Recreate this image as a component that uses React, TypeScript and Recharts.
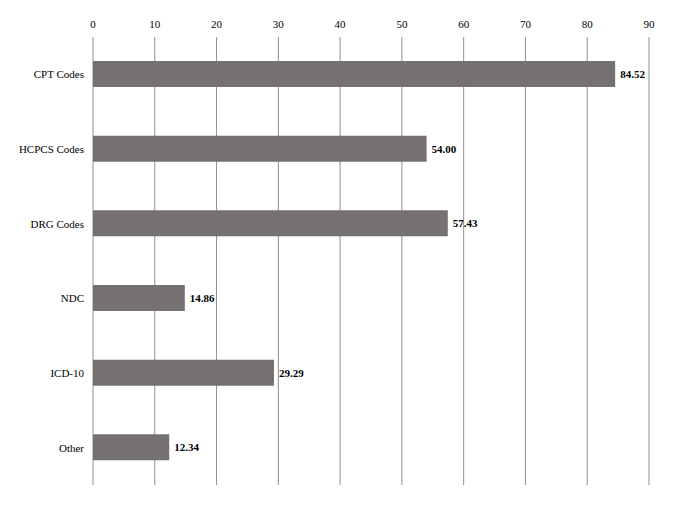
import { BarChart, Bar, XAxis, YAxis, CartesianGrid, LabelList } from "recharts";

const categories = ["CPT Codes", "HCPCS Codes", "DRG Codes", "NDC", "ICD-10", "Other"];
const values = [84.52, 54.0, 57.43, 14.86, 29.29, 12.34];
const xTicks = [0, 10, 20, 30, 40, 50, 60, 70, 80, 90];

const data = categories.map((name, i) => ({ name, value: values[i] }));

const font = '"Liberation Serif", "Times New Roman", serif';

function CategoryTick(props: any) {
  const { x, y, payload } = props;
  return (
    <text x={x} y={y} dy={4} textAnchor="end" fill="#000" fontSize={11} fontFamily={font}>
      {payload.value}
    </text>
  );
}

export default function App() {
  return (
    <div
      style={{
        position: "absolute",
        left: 0,
        top: 0,
        width: 675,
        height: 506,
        background: "#fff",
        fontFamily: font,
      }}
    >
      <BarChart
        width={675}
        height={506}
        data={data}
        layout="vertical"
        margin={{ top: 7, right: 26, bottom: 21, left: 0 }}
        barSize={26}
        style={{ fontFamily: font }}
      >
        <CartesianGrid horizontal={false} stroke="#8f8f8f" strokeWidth={1} />
        <XAxis
          type="number"
          orientation="top"
          domain={[0, 90]}
          ticks={xTicks}
          axisLine={false}
          tickLine={false}
          tickSize={6}
          tickMargin={3}
          height={30}
          tick={{ fill: "#000", fontSize: 11, fontFamily: font }}
        />
        <YAxis
          type="category"
          dataKey="name"
          width={93}
          axisLine={false}
          tickLine={false}
          tickSize={6}
          tickMargin={3}
          tick={<CategoryTick />}
        />
        <Bar dataKey="value" fill="#767171" isAnimationActive={false}>
          <LabelList
            dataKey="value"
            position="right"
            offset={5}
            formatter={(v: number) => v.toFixed(2)}
            style={{ fill: "#000", fontSize: 11, fontWeight: "bold", fontFamily: font }}
          />
        </Bar>
      </BarChart>
    </div>
  );
}
